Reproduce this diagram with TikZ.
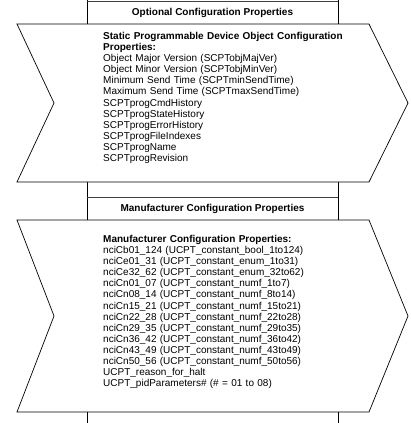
\documentclass[tikz,border=0pt]{standalone}
\usepackage{fontspec}
\setmainfont{Liberation Sans}
\begin{document}
\begin{tikzpicture}[x=1pt,y=-1pt,
  chev/.style={draw=black,line width=0.7pt,line join=miter},
  hline/.style={draw=black!75,line width=0.9pt},
  vline/.style={draw=black,line width=0.7pt},
  title/.style={font=\fontsize{10}{11}\selectfont\bfseries,inner sep=0pt,anchor=center},
  body/.style={font=\fontsize{10}{11.1}\selectfont,inner sep=0pt,anchor=north west,align=left,text width=290pt}]
\useasboundingbox (0,0) rectangle (410,423);
% chevron shapes
\coordinate (c1tl) at (17,24);
\coordinate (c1tr) at (369,24);
\coordinate (c1r) at (408,103);
\coordinate (c1br) at (369,182);
\coordinate (c1bl) at (17,182);
\coordinate (c1l) at (54,103);
\draw[chev] (c1tl) -- (c1tr) -- (c1r) -- (c1br) -- (c1bl) -- (c1l) -- cycle;
\coordinate (c2tl) at (17,220);
\coordinate (c2tr) at (369,220);
\coordinate (c2r) at (408,316);
\coordinate (c2br) at (369,412);
\coordinate (c2bl) at (17,412);
\coordinate (c2l) at (54,316);
\draw[chev] (c2tl) -- (c2tr) -- (c2r) -- (c2br) -- (c2bl) -- (c2l) -- cycle;
% boxes between
\draw[vline] (87,0) -- (87,24) (338,0) -- (338,24);
\draw[hline] (87,1) -- (338,1);
\draw[vline] (87,182) -- (87,220) (338,182) -- (338,220);
\draw[hline] (87,197) -- (338,197);
\draw[vline] (87,412) -- (87,423) (338,412) -- (338,423);
% titles
\node[title] (t1) at (212.5,13) {Optional Configuration Properties};
\node[title] (t2) at (212.5,209) {Manufacturer Configuration Properties};
% body texts
\node[body] (b1) at (103,32) {\textbf{Static Programmable Device Object Configuration}\\
\textbf{Properties:}\\
Object Major Version (SCPTobjMajVer)\\
Object Minor Version (SCPTobjMinVer)\\
Minimum Send Time (SCPTminSendTime)\\
Maximum Send Time (SCPTmaxSendTime)\\
SCPTprogCmdHistory\\
SCPTprogStateHistory\\
SCPTprogErrorHistory\\
SCPTprogFileIndexes\\
SCPTprogName\\
SCPTprogRevision};
\node[body] (b2) at (103,235) {\textbf{Manufacturer Configuration Properties:}\\
nciCb01\_124 (UCPT\_constant\_bool\_1to124)\\
nciCe01\_31 (UCPT\_constant\_enum\_1to31)\\
nciCe32\_62 (UCPT\_constant\_enum\_32to62)\\
nciCn01\_07 (UCPT\_constant\_numf\_1to7)\\
nciCn08\_14 (UCPT\_constant\_numf\_8to14)\\
nciCn15\_21 (UCPT\_constant\_numf\_15to21)\\
nciCn22\_28 (UCPT\_constant\_numf\_22to28)\\
nciCn29\_35 (UCPT\_constant\_numf\_29to35)\\
nciCn36\_42 (UCPT\_constant\_numf\_36to42)\\
nciCn43\_49 (UCPT\_constant\_numf\_43to49)\\
nciCn50\_56 (UCPT\_constant\_numf\_50to56)\\
UCPT\_reason\_for\_halt\\
UCPT\_pidParameters\# (\# = 01 to 08)};
\end{tikzpicture}
\end{document}
